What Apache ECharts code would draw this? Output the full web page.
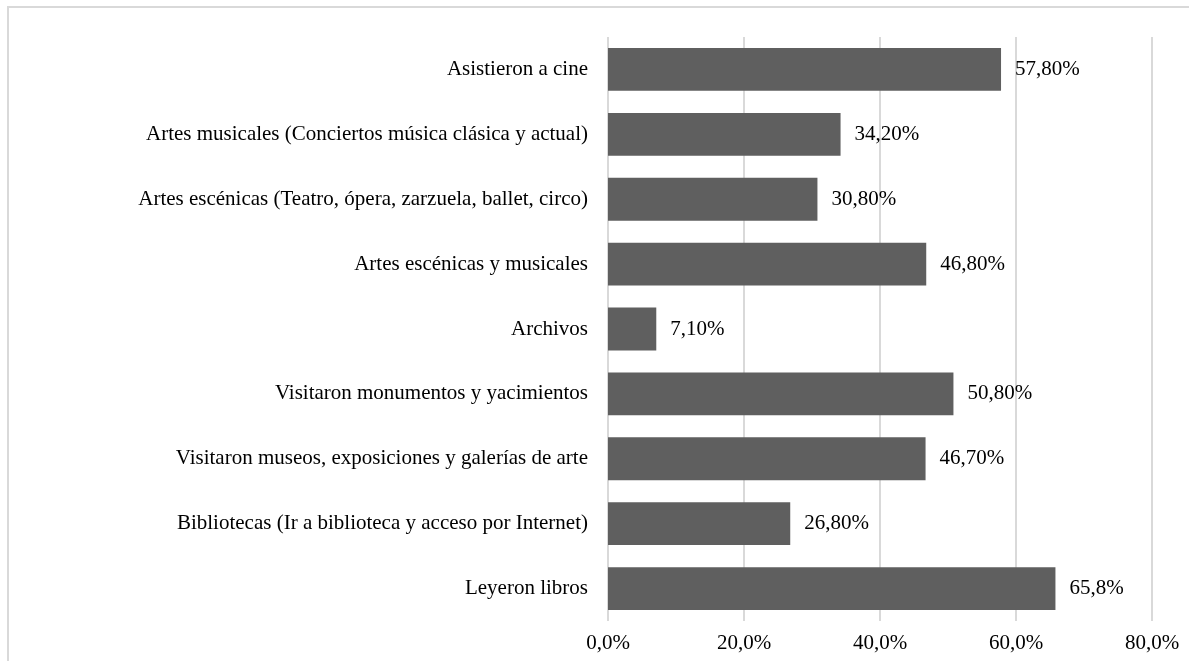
<!DOCTYPE html>
<html>
<head>
<meta charset="utf-8">
<script src="https://cdn.jsdelivr.net/npm/echarts@6/dist/echarts.min.js"></script>
<style>
  html, body { margin: 0; padding: 0; background: #fff; }
  #frame { position: absolute; left: 7px; top: 6px; width: 1200px; height: 700px;
           border-left: 2px solid #d9d9d9; border-top: 2px solid #d9d9d9; }
  #chart { position: absolute; left: 0; top: 0; width: 1189px; height: 661px; }
</style>
</head>
<body>
<div id="frame"></div>
<div id="chart"></div>
<script>
// Participación en actividades culturales (de arriba abajo)
const categories = [
  'Asistieron a cine',
  'Artes musicales (Conciertos música clásica y actual)',
  'Artes escénicas (Teatro, ópera, zarzuela, ballet, circo)',
  'Artes escénicas y musicales',
  'Archivos',
  'Visitaron monumentos y yacimientos',
  'Visitaron museos, exposiciones y galerías de arte',
  'Bibliotecas (Ir a biblioteca y acceso por Internet)',
  'Leyeron libros'
];
const values = [57.8, 34.2, 30.8, 46.8, 7.1, 50.8, 46.7, 26.8, 65.8];
const valueLabels = ['57,80%', '34,20%', '30,80%', '46,80%', '7,10%', '50,80%', '46,70%', '26,80%', '65,8%'];
const tickLabels = ['0,0%', '20,0%', '40,0%', '60,0%', '80,0%'];

const font = '"Liberation Serif", "Times New Roman", serif';
const chart = echarts.init(document.getElementById('chart'));
chart.setOption({
  animation: false,
  grid: { left: 608, right: 37, top: 37, bottom: 40, containLabel: false },
  xAxis: {
    type: 'value', min: 0, max: 80, interval: 20,
    axisLine: { show: false }, axisTick: { show: false },
    splitLine: { show: true, lineStyle: { color: '#d9d9d9', width: 2 } },
    axisLabel: {
      color: '#000', fontFamily: font, fontSize: 21, margin: 12,
      formatter: v => tickLabels[Math.round(v / 20)]
    }
  },
  yAxis: {
    type: 'category', data: categories, inverse: true,
    axisLine: { show: false }, axisTick: { show: false },
    axisLabel: { color: '#000', fontFamily: font, fontSize: 21, margin: 20 }
  },
  series: [{
    type: 'bar', data: values, barCategoryGap: '34%',
    itemStyle: { color: '#5f5f5f' },
    label: {
      show: true, position: 'right', distance: 14,
      color: '#000', fontFamily: font, fontSize: 21,
      formatter: p => valueLabels[p.dataIndex]
    }
  }]
});
</script>
</body>
</html>
